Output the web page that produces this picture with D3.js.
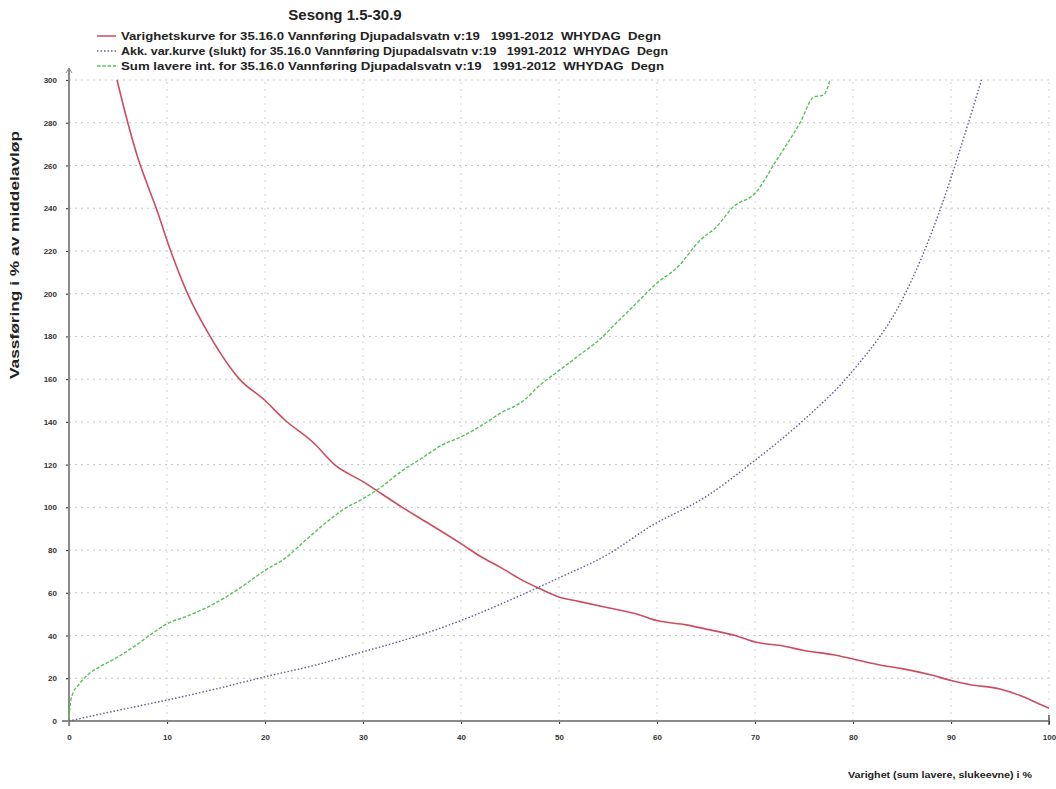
<!DOCTYPE html>
<html>
<head>
<meta charset="utf-8">
<script src="https://cdn.jsdelivr.net/npm/d3@7"></script>
<style>
  body { margin: 0; background: #fff; }
  svg text { font-family: "Liberation Sans", Arial, sans-serif; }
</style>
</head>
<body>
<div id="chart"></div>
<script>
// Chart values
const titleText = "Sesong 1.5-30.9";
const seriesNames = [
  "Varighetskurve for 35.16.0 Vannføring Djupadalsvatn v:19   1991-2012  WHYDAG  Degn",
  "Akk. var.kurve (slukt) for 35.16.0 Vannføring Djupadalsvatn v:19   1991-2012  WHYDAG  Degn",
  "Sum lavere int. for 35.16.0 Vannføring Djupadalsvatn v:19   1991-2012  WHYDAG  Degn"
];
const xTicks = [0, 10, 20, 30, 40, 50, 60, 70, 80, 90, 100];
const yTicks = [0, 20, 40, 60, 80, 100, 120, 140, 160, 180, 200, 220, 240, 260, 280, 300];

// Varighetskurve (red, solid)
const durationX = [4.9, 6.0, 7.0, 8.0, 8.9, 10.3, 12.1, 14.4, 17.4, 20, 22, 25, 27.1, 30, 32, 34, 36.5, 40, 42, 44, 46, 48, 50, 52, 55, 58, 60, 63, 65, 68, 70, 73, 75, 78, 80, 83, 85, 88, 90, 92, 95, 97, 99, 100];
const durationY = [300, 280, 264, 251, 240, 221, 200, 180, 160, 150, 141, 130, 120, 112, 106, 100, 93, 83, 77, 72, 66.5, 62, 58, 56, 53, 50, 47, 45, 43, 40, 37, 35, 33, 31, 29, 26, 24.5, 21.5, 19, 17, 15, 12, 8, 6];

// Akk. var.kurve (blue, dotted)
const accumX = [0, 5, 10, 15, 20, 25, 30, 35, 40, 45, 50, 55, 59.3, 65, 70, 75, 80, 85, 89, 91.1, 93.1];
const accumY = [0, 5, 9.8, 15, 20.7, 26, 32.4, 39, 47, 56.6, 67, 78, 91, 105, 122, 141, 164, 197, 240.7, 270, 300];

// Sum lavere int. (green, dashed)
const sumX = [0, 0.2, 0.4, 1, 2, 3, 5, 7, 8.5, 10, 12, 14, 16, 18, 20, 22, 24, 26, 28, 30, 32, 33.8, 36, 38, 40, 42, 44, 46.4, 48, 50, 52, 54, 56, 58, 60, 62, 64.4, 66, 67.8, 70, 72.2, 74.6, 76, 77, 77.65];
const sumY = [2, 10, 13, 17, 22, 25, 30, 36, 41, 45.5, 49, 53, 58, 64, 70.5, 76, 84, 92, 99, 104, 110, 116.5, 123, 129, 133, 138, 144, 150, 157, 164, 171, 178, 187, 196, 205, 212, 225, 231, 240.7, 247, 262.5, 280, 292, 293, 300];

const width = 1056, height = 789;
const margin = {top: 80, right: 7, bottom: 68, left: 69};

const svg = d3.select("#chart").append("svg")
  .attr("width", width)
  .attr("height", height);

const x = d3.scaleLinear().domain([0, 100]).range([margin.left, width - margin.right]);
const y = d3.scaleLinear().domain([0, 300]).range([height - margin.bottom, margin.top]);

// grid
svg.append("g")
  .selectAll("line")
  .data(yTicks.slice(1))
  .enter().append("line")
  .attr("x1", x(0)).attr("x2", x(100))
  .attr("y1", d => y(d)).attr("y2", d => y(d))
  .attr("stroke", "#c4c4c4").attr("stroke-width", 1)
  .attr("stroke-dasharray", "2,4");

svg.append("g")
  .selectAll("line")
  .data(xTicks.slice(1))
  .enter().append("line")
  .attr("x1", d => x(d)).attr("x2", d => x(d))
  .attr("y1", y(0)).attr("y2", y(300))
  .attr("stroke", "#d4d4d4").attr("stroke-width", 1)
  .attr("stroke-dasharray", "2,5");

// axes
const xAxis = d3.axisBottom(x).tickValues(xTicks).tickSize(3).tickPadding(10);
const yAxis = d3.axisLeft(y).tickValues(yTicks).tickSize(3).tickPadding(9);

const gx = svg.append("g").attr("transform", `translate(0,${y(0)})`).call(xAxis);
const gy = svg.append("g").attr("transform", `translate(${x(0)},0)`).call(yAxis);

[gx, gy].forEach(g => {
  g.select(".domain").remove();
  g.selectAll(".tick line").attr("stroke", "#444").attr("stroke-width", 1.2);
  g.selectAll(".tick text")
    .attr("font-size", 8).attr("font-weight", "bold").attr("fill", "#333");
});

svg.append("line")
  .attr("x1", x(0) - 7).attr("x2", x(100))
  .attr("y1", y(0)).attr("y2", y(0))
  .attr("stroke", "#8a8a8a").attr("stroke-width", 2);
svg.append("line")
  .attr("x1", x(0)).attr("x2", x(0))
  .attr("y1", y(0) + 5).attr("y2", y(300) - 12)
  .attr("stroke", "#8a8a8a").attr("stroke-width", 2);
svg.append("path")
  .attr("d", `M${x(0) - 3},${y(300) - 7} L${x(0)},${y(300) - 12} L${x(0) + 3},${y(300) - 7}`)
  .attr("fill", "none").attr("stroke", "#8a8a8a").attr("stroke-width", 1);
svg.append("line")
  .attr("x1", x(100)).attr("x2", x(100))
  .attr("y1", y(0) - 6).attr("y2", y(0) + 4)
  .attr("stroke", "#555").attr("stroke-width", 1.5);

// curves
const line = d3.line().x(d => x(d[0])).y(d => y(d[1])).curve(d3.curveMonotoneX);

const series = [
  {xs: durationX, ys: durationY, color: "#cc4d61", dash: null, w: 1.6},
  {xs: accumX, ys: accumY, color: "#5b5b98", dash: "1.5,2", w: 1.4},
  {xs: sumX, ys: sumY, color: "#57c257", dash: "3.5,1.8", w: 1.4}
];

series.forEach(s => {
  svg.append("path")
    .datum(d3.zip(s.xs, s.ys))
    .attr("d", line)
    .attr("fill", "none")
    .attr("stroke", s.color)
    .attr("stroke-width", s.w)
    .attr("stroke-dasharray", s.dash);
});

// title + legend
svg.append("text")
  .attr("x", 345).attr("y", 20)
  .attr("text-anchor", "middle")
  .attr("font-size", 15).attr("font-weight", "bold").attr("fill", "#222")
  .text(titleText);

const legendLen = [540, 547, 543];
const legend = svg.append("g");
series.forEach((s, i) => {
  const ly = 36 + i * 15;
  legend.append("line")
    .attr("x1", 97).attr("x2", 116)
    .attr("y1", ly).attr("y2", ly)
    .attr("stroke", s.color).attr("stroke-width", 1.5)
    .attr("stroke-dasharray", s.dash);
  legend.append("text")
    .attr("x", 121).attr("y", ly + 4)
    .attr("font-size", 11.5).attr("font-weight", "bold").attr("fill", "#222")
    .attr("textLength", legendLen[i]).attr("lengthAdjust", "spacingAndGlyphs")
    .style("white-space", "pre")
    .text(seriesNames[i]);
});

// axis titles
svg.append("text")
  .attr("transform", "translate(19,255) rotate(-90)")
  .attr("text-anchor", "middle")
  .attr("font-size", 13).attr("font-weight", "bold").attr("fill", "#222")
  .attr("textLength", 248).attr("lengthAdjust", "spacingAndGlyphs")
  .text("Vassføring i % av middelavløp");

svg.append("text")
  .attr("x", 848).attr("y", 778)
  .attr("font-size", 9).attr("font-weight", "bold").attr("fill", "#222")
  .attr("textLength", 184).attr("lengthAdjust", "spacingAndGlyphs")
  .text("Varighet (sum lavere, slukeevne) i %");
</script>
</body>
</html>
